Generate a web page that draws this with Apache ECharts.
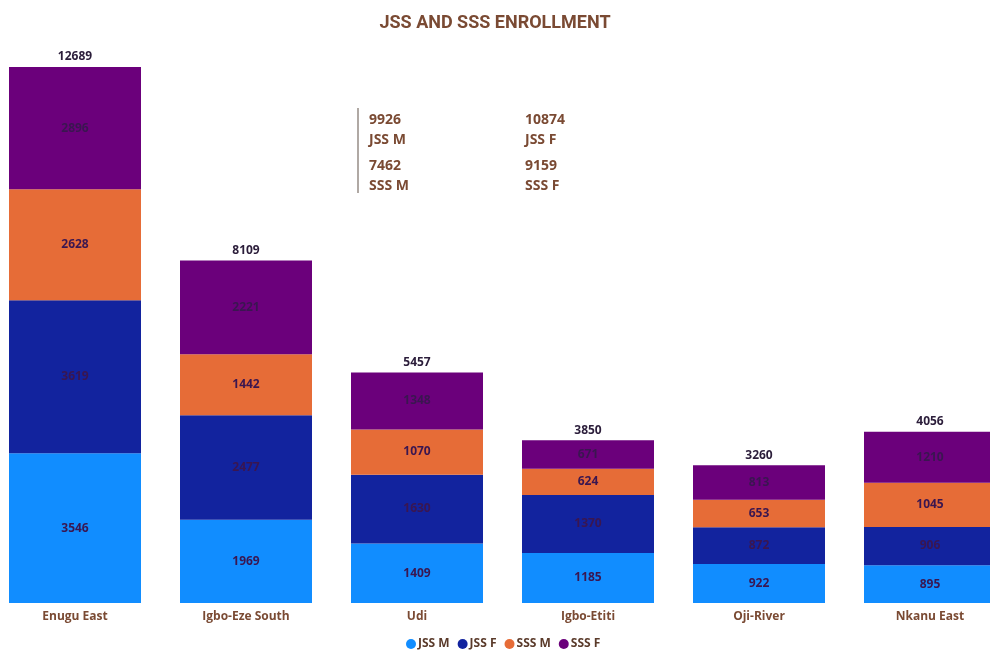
<!DOCTYPE html>
<html>
<head>
<meta charset="utf-8">
<script src="https://cdn.jsdelivr.net/npm/echarts@6/dist/echarts.min.js"></script>
<style>
  html, body { margin: 0; padding: 0; background: #fff; }
  #chart { width: 990px; height: 652px; }
</style>
</head>
<body>
<div id="chart"></div>
<script>
// Enrollment by local government area
const categories = ['Enugu East', 'Igbo-Eze South', 'Udi', 'Igbo-Etiti', 'Oji-River', 'Nkanu East'];
const jssM = [3546, 1969, 1409, 1185, 922, 895];
const jssF = [3619, 2477, 1630, 1370, 872, 906];
const sssM = [2628, 1442, 1070, 624, 653, 1045];
const sssF = [2896, 2221, 1348, 671, 813, 1210];
const seriesNames = ['JSS M', 'JSS F', 'SSS M', 'SSS F'];
const seriesColors = ['#118DFF', '#12239E', '#E66C37', '#6B007B'];

const values = [jssM, jssF, sssM, sssF];
const totals = categories.map((_, i) => values.reduce((s, arr) => s + arr[i], 0));
const sumOf = arr => arr.reduce((a, b) => a + b, 0);

const brown = '#7a4a33';
const font = '"Open Sans", "Noto Sans", sans-serif';

const chart = echarts.init(document.getElementById('chart'));

const stacked = seriesNames.map((name, k) => ({
  name,
  type: 'bar',
  stack: 'enroll',
  data: values[k],
  barWidth: 132,
  itemStyle: { color: seriesColors[k] },
  label: {
    show: true,
    position: 'inside',
    color: '#3a1650',
    fontFamily: font,
    fontWeight: 'bold',
    fontSize: 12
  }
}));

const totalSeries = {
  name: 'Total',
  type: 'bar',
  data: totals,
  barWidth: 132,
  barGap: '-100%',
  z: 0,
  silent: true,
  itemStyle: { color: 'rgba(0,0,0,0)' },
  label: {
    show: true,
    position: 'top',
    distance: 4,
    color: '#2b1d3a',
    fontFamily: font,
    fontWeight: 'bold',
    fontSize: 12
  }
};

// KPI block: totals per series
const kpiX = [369, 525];
const kpiRows = [122, 168];
const kpiText = [];
seriesNames.forEach((name, k) => {
  const x = kpiX[k % 2];
  const y = kpiRows[Math.floor(k / 2)];
  kpiText.push({
    type: 'text', left: x, top: y - 9,
    style: { text: String(sumOf(values[k])), fill: brown, font: 'bold 14px ' + font }
  });
  kpiText.push({
    type: 'text', left: x, top: y + 11,
    style: { text: name, fill: brown, font: 'bold 14px ' + font }
  });
});

chart.setOption({
  animation: false,
  title: {
    text: 'JSS AND SSS ENROLLMENT',
    left: 'center',
    top: 9,
    textStyle: { color: brown, fontFamily: 'Roboto, sans-serif', fontWeight: 'bold', fontSize: 18 }
  },
  legend: {
    data: seriesNames,
    bottom: 0,
    left: 406,
    padding: [0, 0, 2, 0],
    icon: 'circle',
    itemWidth: 10,
    itemHeight: 10,
    itemGap: 8,
    textStyle: { color: '#5a3a2a', fontFamily: font, fontWeight: 'bold', fontSize: 12, padding: [0, 0, 0, -3] }
  },
  grid: { left: -10.5, width: 1026, top: 67, bottom: 49, containLabel: false, outerBoundsMode: 'none' },
  xAxis: {
    type: 'category',
    data: categories,
    axisLine: { show: false },
    axisTick: { show: false },
    axisLabel: { color: brown, fontFamily: font, fontWeight: 'bold', fontSize: 12, margin: 8 }
  },
  yAxis: {
    type: 'value',
    min: 0,
    max: totals[0],
    show: false,
    splitLine: { show: false }
  },
  graphic: [
    { type: 'line', shape: { x1: 358, y1: 108, x2: 358, y2: 193 }, style: { stroke: '#b0a9a4', lineWidth: 2 } },
    ...kpiText
  ],
  series: [...stacked, totalSeries]
});
</script>
</body>
</html>
